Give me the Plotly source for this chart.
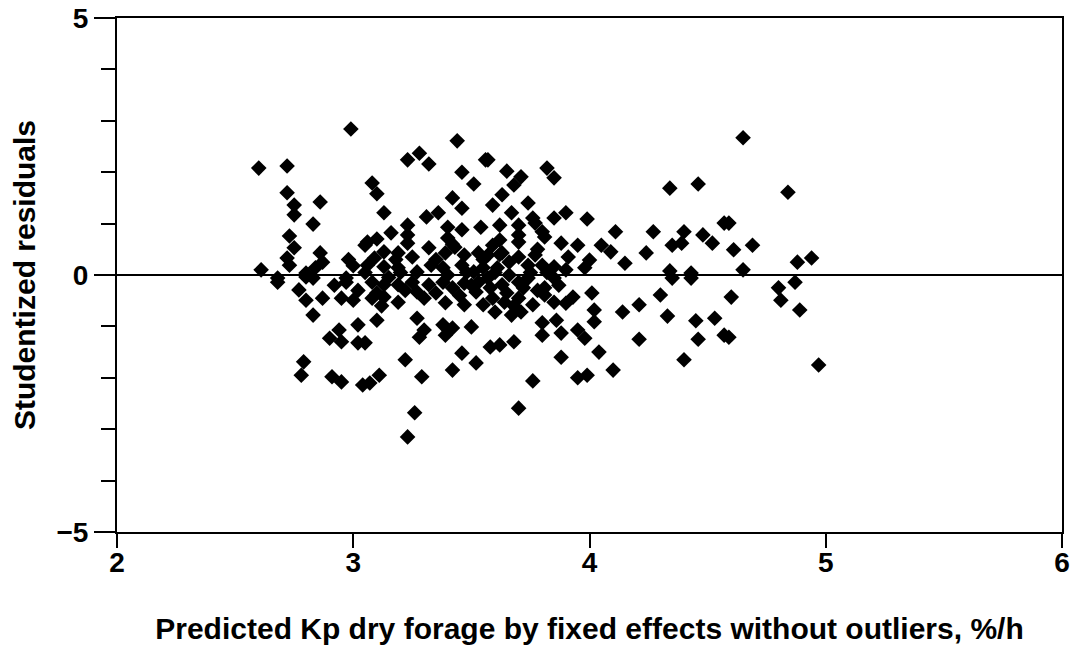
import plotly.graph_objects as go

# Predicted Kp (x) and studentized residuals (y)
x_pred = [
    2.99, 2.60, 2.72, 2.72, 2.75, 2.75, 2.86, 2.83, 2.73, 2.75, 2.72, 2.73, 2.86, 2.87, 2.84, 2.80, 2.61, 2.68, 3.00, 3.05, 2.97,
    2.80, 2.83, 2.77, 2.80, 2.87, 2.95, 3.00, 2.83, 3.02, 2.94, 2.90, 2.95, 3.02, 2.79, 2.78, 2.91, 2.95, 3.04, 2.68, 2.97,
    3.44, 3.28, 3.23, 3.32, 3.56, 3.46, 3.08, 3.10, 3.51, 3.42, 3.46, 3.13, 3.31, 3.36, 3.54, 3.23, 3.40, 3.16, 3.23, 3.46,
    3.10, 3.06, 3.23, 3.40, 3.43, 3.32, 3.13, 3.19, 3.09, 3.39, 3.47, 3.53, 3.06, 3.13, 3.19, 3.27, 3.33, 3.38, 3.46, 3.51, 3.55,
    3.08, 3.13, 3.19, 3.25, 3.27, 3.32, 3.38, 3.42, 3.47, 3.53, 3.52, 3.08, 3.13, 3.19, 3.39, 3.47, 3.55, 3.10, 3.27, 3.30,
    3.28, 3.38, 3.39, 3.42, 3.50, 3.05, 3.22, 3.46, 3.52, 3.42, 3.11, 3.07, 3.29, 3.26, 3.23,
    3.57, 3.65, 3.82, 3.85, 3.71, 3.68, 3.63, 3.74, 3.59, 3.90, 3.85, 3.99, 3.67, 3.76, 3.62, 3.70, 3.77, 3.80, 3.70, 3.70,
    3.62, 3.59, 3.81, 3.88, 3.95, 4.05, 3.57, 3.63, 3.66, 3.77, 3.74, 3.80, 3.91, 4.00, 3.85, 3.98, 3.61,
    3.57, 3.63, 3.70, 3.74, 3.81, 3.85, 3.59, 3.64, 3.70, 3.76, 3.81, 3.85, 3.60, 3.67, 3.71, 3.93, 4.01, 4.02, 3.86, 3.80,
    3.95, 3.98, 4.02, 3.80, 3.88, 3.58, 3.62, 3.68, 4.04, 3.88, 3.76, 3.95, 3.99, 3.70,
    4.34, 4.46, 4.11, 4.27, 4.40, 4.48, 4.52, 4.35, 4.39, 4.09, 4.24, 4.15, 4.34, 4.43, 4.57,
    4.35, 4.43, 4.30, 4.14, 4.21, 4.33, 4.45, 4.53, 4.57, 4.21, 4.46, 4.40, 4.10,
    4.65, 4.84, 4.59, 4.61, 4.69, 4.88, 4.94, 4.65, 4.87, 4.80, 4.60, 4.81, 4.89, 4.59, 4.97,
    3.15, 3.20, 3.22, 3.30, 3.35, 3.35, 3.40, 3.45, 3.48, 3.50, 3.55, 3.58, 3.60, 3.65, 3.66, 3.70, 3.72, 3.75, 3.78, 3.82,
    3.87, 3.90, 3.12, 3.18, 3.25, 3.42, 3.62, 3.68, 3.78, 3.90, 2.92, 2.98, 3.02, 3.05, 3.10,
]
y_resid = [
    2.84, 2.08, 2.12, 1.60, 1.36, 1.17, 1.42, 0.99, 0.76, 0.53, 0.33, 0.19, 0.43, 0.25, 0.14, 0.04, 0.10, -0.06, 0.18, 0.58, -0.06,
    -0.04, -0.06, -0.29, -0.49, -0.45, -0.45, -0.49, -0.78, -0.97, -1.07, -1.23, -1.30, -1.32, -1.69, -1.95, -1.98, -2.08, -2.14, -0.14, -0.14,
    2.61, 2.37, 2.24, 2.16, 2.24, 2.00, 1.79, 1.58, 1.77, 1.50, 1.30, 1.21, 1.13, 1.21, 0.93, 0.97, 0.93, 0.82, 0.78, 0.88,
    0.70, 0.64, 0.62, 0.72, 0.54, 0.53, 0.45, 0.43, 0.33, 0.43, 0.39, 0.43, 0.19, 0.16, 0.14, 0.06, 0.19, 0.14, 0.19, 0.06, 0.14,
    -0.14, -0.19, -0.19, -0.14, -0.33, -0.19, -0.14, -0.25, -0.16, -0.14, -0.33, -0.45, -0.43, -0.53, -0.54, -0.58, -0.58, -0.88, -0.84, -1.07,
    -1.21, -0.97, -1.17, -1.03, -1.01, -1.32, -1.65, -1.52, -1.71, -1.85, -1.95, -2.10, -1.98, -2.68, -3.15,
    2.24, 2.02, 2.08, 1.89, 1.91, 1.75, 1.56, 1.40, 1.36, 1.21, 1.11, 1.09, 1.21, 1.11, 0.97, 0.97, 1.01, 0.84, 0.78, 0.64,
    0.68, 0.58, 0.74, 0.62, 0.58, 0.58, 0.39, 0.43, 0.25, 0.39, 0.19, 0.19, 0.35, 0.29, 0.16, 0.14, 0.14,
    -0.06, -0.19, -0.14, -0.06, -0.25, -0.06, -0.45, -0.53, -0.45, -0.58, -0.39, -0.53, -0.72, -0.78, -0.72, -0.43, -0.35, -0.68, -0.88, -0.93,
    -1.07, -1.23, -0.91, -1.17, -1.13, -1.40, -1.36, -1.30, -1.50, -1.60, -2.06, -2.00, -1.95, -2.59,
    1.69, 1.77, 0.84, 0.84, 0.84, 0.78, 0.62, 0.58, 0.62, 0.45, 0.43, 0.23, 0.08, 0.04, 1.01,
    -0.06, -0.06, -0.39, -0.72, -0.58, -0.80, -0.89, -0.84, -1.17, -1.25, -1.25, -1.65, -1.85,
    2.67, 1.61, 1.01, 0.49, 0.58, 0.25, 0.33, 0.10, -0.14, -0.25, -0.43, -0.49, -0.68, -1.21, -1.75,
    -0.05, 0.05, -0.30, -0.45, 0.30, -0.35, 0.00, -0.40, 0.05, -0.20, 0.30, -0.25, 0.05, -0.35, 0.00, 0.35, -0.25, 0.05, -0.30, 0.05,
    -0.20, 0.10, -0.60, 0.30, 0.35, 0.60, 0.40, -0.60, 0.50, -0.55, -0.20, 0.30, -0.30, 0.05, -0.35,
]

x_ticks = [2, 3, 4, 5, 6]
y_ticks = [-5, 0, 5]

FONT = "Liberation Sans Narrow, Arial Narrow, Liberation Sans, Arial, sans-serif"

fig = go.Figure()
fig.add_trace(go.Scatter(
    x=x_pred, y=y_resid, mode="markers",
    marker=dict(symbol="diamond", size=12, color="black", line=dict(width=0)),
    showlegend=False,
))

fig.update_layout(
    width=1071, height=645,
    margin=dict(l=117, r=9, t=18, b=113),
    paper_bgcolor="white", plot_bgcolor="white",
    font=dict(family=FONT, color="black", weight="bold"),
    xaxis=dict(
        range=[2, 6], tickvals=x_ticks, ticks="outside", ticklen=14, tickwidth=2,
        tickcolor="black", showline=True, linecolor="black", linewidth=2, mirror=True,
        showgrid=False, zeroline=False, automargin=False, ticklabelstandoff=-10,
        tickfont=dict(size=28, family=FONT, weight="bold"),
        title=dict(text="Predicted Kp dry forage by fixed effects without outliers, %/h",
                   font=dict(size=30, family=FONT, weight="bold"), standoff=42),
    ),
    yaxis=dict(
        range=[-5, 5], tickvals=y_ticks, ticks="outside", ticklen=21, tickwidth=2,
        tickcolor="black", showline=True, linecolor="black", linewidth=2, mirror=True,
        showgrid=False, zeroline=True, zerolinecolor="black", zerolinewidth=2,
        automargin=False,
        minor=dict(dtick=1, ticks="outside", ticklen=14, tickwidth=2, tickcolor="black"),
        tickfont=dict(size=28, family=FONT, weight="bold"),
        title=dict(text="Studentized residuals",
                   font=dict(size=30, family=FONT, weight="bold"), standoff=12),
    ),
)

fig.write_html("out.html")
